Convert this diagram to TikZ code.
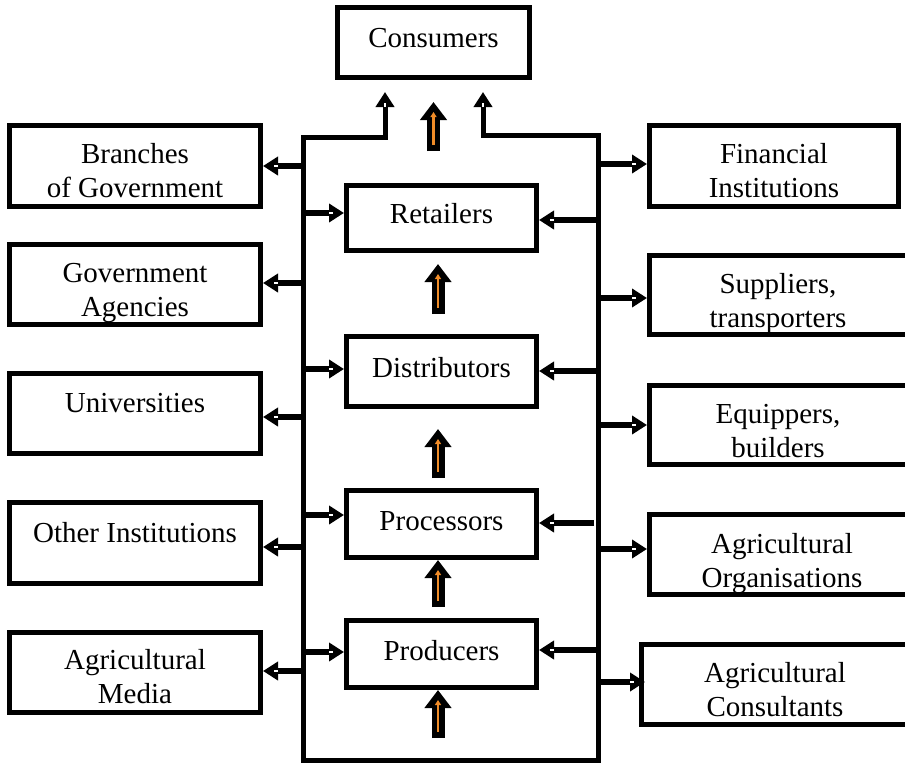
\documentclass[tikz,border=0pt]{standalone}
\usepackage{fontspec}
\setmainfont{Liberation Serif}
\usetikzlibrary{arrows.meta,calc,decorations.markings}
\definecolor{arrorange}{RGB}{240,140,40}
\newcommand\twolines[2]{\begin{tabular}[t]{@{}c@{}}#1\\#2\end{tabular}}
% black block arrow with thin orange core: from, to, shorten start, shorten end
\newcommand\blockarrow[4]{%
  \draw[line width=13pt, -{Triangle[length=18pt,width=26pt]}, shorten <=#3, shorten >=#4] #1 -- #2;
  \draw[arrorange, line width=2.5pt, -{Triangle[length=5pt,width=6pt]}, shorten <=#3+6pt, shorten >=#4+10pt] #1 -- #2;
}
\begin{document}
\begin{tikzpicture}[x=1pt,y=-1pt,
  box/.style={draw, line width=5pt, inner sep=0pt},
  txt/.style={inner sep=0pt, anchor=base, font=\fontsize{29}{34}\selectfont},
  notchend/.style={postaction={decorate, decoration={markings,
      mark=at position -13pt with {\fill[white] (-1.6pt,-1.3pt) rectangle (1.6pt,1.3pt);}}}},
  notchstart/.style={postaction={decorate, decoration={markings,
      mark=at position 13pt with {\fill[white] (-1.6pt,-1.3pt) rectangle (1.6pt,1.3pt);}}}},
  sarr/.style={line width=6.5pt, -{Triangle[length=15pt,width=18pt]}, notchend},
  frameline/.style={line width=5pt, line join=miter, {Triangle[length=15pt,width=18pt]}-{Triangle[length=15pt,width=18pt]}}]
\clip (0,0) rectangle (905,763);
\fill[white] (0,0) rectangle (905,763);

% top
\node[box, minimum width=192pt, minimum height=70pt] (cons) at (433.5,42.5) {};
\node[txt] (cons-t) at (433.5,47) {Consumers};

% left column
\node[box, minimum width=251pt, minimum height=81pt] (bran) at (135,166) {};
\node[box, minimum width=251pt, minimum height=80pt] (gova) at (135,284.5) {};
\node[box, minimum width=251pt, minimum height=80pt] (univ) at (135,413.5) {};
\node[box, minimum width=251pt, minimum height=81pt] (othr) at (135,543) {};
\node[box, minimum width=251pt, minimum height=80pt] (media) at (135,672.5) {};
\node[txt] (bran-t) at (135,163) {\twolines{Branches}{of Government}};
\node[txt] (gova-t) at (135,282) {\twolines{Government}{Agencies}};
\node[txt] (univ-t) at (135,412) {Universities};
\node[txt] (othr-t) at (135,542) {Other Institutions};
\node[txt] (media-t) at (135,669) {\twolines{Agricultural}{Media}};

% centre column
\node[box, minimum width=190pt, minimum height=65pt] (ret) at (441.5,218) {};
\node[box, minimum width=190pt, minimum height=70pt] (dist) at (441.5,371.5) {};
\node[box, minimum width=190pt, minimum height=67pt] (proc) at (441.5,524) {};
\node[box, minimum width=190pt, minimum height=67pt] (prod) at (441.5,654) {};
\node[txt] (ret-t) at (441.5,223) {Retailers};
\node[txt] (dist-t) at (441.5,377) {Distributors};
\node[txt] (proc-t) at (441.5,530) {Processors};
\node[txt] (prod-t) at (441.5,660) {Producers};

% right column
\node[box, minimum width=249pt, minimum height=81pt] (fin) at (774,166) {};
\node[box, minimum width=350pt, minimum height=79pt] (supp) at (824.5,295) {};
\node[box, minimum width=350pt, minimum height=79pt] (equi) at (824.5,425) {};
\node[box, minimum width=350pt, minimum height=80pt] (agor) at (824.5,554.5) {};
\node[box, minimum width=358pt, minimum height=80pt] (agco) at (820.5,684.5) {};
\node[txt] (fin-t) at (774,163) {\twolines{Financial}{Institutions}};
\node[txt] (supp-t) at (778,293) {\twolines{Suppliers,}{transporters}};
\node[txt] (equi-t) at (778,423) {\twolines{Equippers,}{builders}};
\node[txt] (agor-t) at (782,553) {\twolines{Agricultural}{Organisations}};
\node[txt] (agco-t) at (775,682) {\twolines{Agricultural}{Consultants}};

% frame
\coordinate (fl) at (303,0);
\coordinate (fr) at (598,0);
\coordinate (tipL) at (385,92);
\coordinate (tipR) at (483,92);
\draw[frameline, notchstart, notchend] (tipL) -- (385,137) -- (fl |- 0,137) -- (fl |- 0,760) -- (fr |- 0,760) -- (fr |- 0,135) -- (483,135) -- (tipR);

% left outgoing arrows
\draw[sarr] (fl |- 0,166) -- (bran.east |- 0,166);
\draw[sarr] (fl |- 0,283) -- (gova.east |- 0,283);
\draw[sarr] (fl |- 0,417) -- (univ.east |- 0,417);
\draw[sarr] (fl |- 0,547) -- (othr.east |- 0,547);
\draw[sarr] (fl |- 0,671) -- (media.east |- 0,671);

% arrows into centre boxes from the left
\draw[sarr] (fl |- 0,213) -- (ret.west |- 0,213);
\draw[sarr] (fl |- 0,369) -- (dist.west |- 0,369);
\draw[sarr] (fl |- 0,515) -- (proc.west |- 0,515);
\draw[sarr] (fl |- 0,652) -- (prod.west |- 0,652);

% arrows into centre boxes from the right
\draw[sarr] (fr |- 0,220) -- (ret.east |- 0,220);
\draw[sarr] (fr |- 0,371) -- (dist.east |- 0,371);
\draw[sarr] ([xshift=-4pt]fr |- 0,523) -- (proc.east |- 0,523);
\draw[sarr] (fr |- 0,650) -- (prod.east |- 0,650);

% right outgoing arrows
\draw[sarr] (fr |- 0,164) -- (fin.west |- 0,164);
\draw[sarr] (fr |- 0,298) -- (supp.west |- 0,298);
\draw[sarr] (fr |- 0,425) -- (equi.west |- 0,425);
\draw[sarr] (fr |- 0,549) -- (agor.west |- 0,549);
\draw[sarr] (fr |- 0,682) -- ($(agco.west |- 0,682)+(6,0)$);

% orange block arrows
\coordinate (pbot) at (438,738);
\blockarrow{(cons.south |- ret.north)}{(cons.south)}{32pt}{22pt}
\blockarrow{([xshift=-3.5pt]dist.north)}{([xshift=-3.5pt]ret.south)}{20pt}{11pt}
\blockarrow{([xshift=-3.5pt]proc.north)}{([xshift=-3.5pt]dist.south)}{10pt}{20pt}
\blockarrow{([xshift=-3.5pt]prod.north)}{([xshift=-3.5pt]proc.south)}{11pt}{0pt}
\blockarrow{(pbot)}{([xshift=-3.5pt]prod.south)}{0pt}{0pt}
\end{tikzpicture}
\end{document}
